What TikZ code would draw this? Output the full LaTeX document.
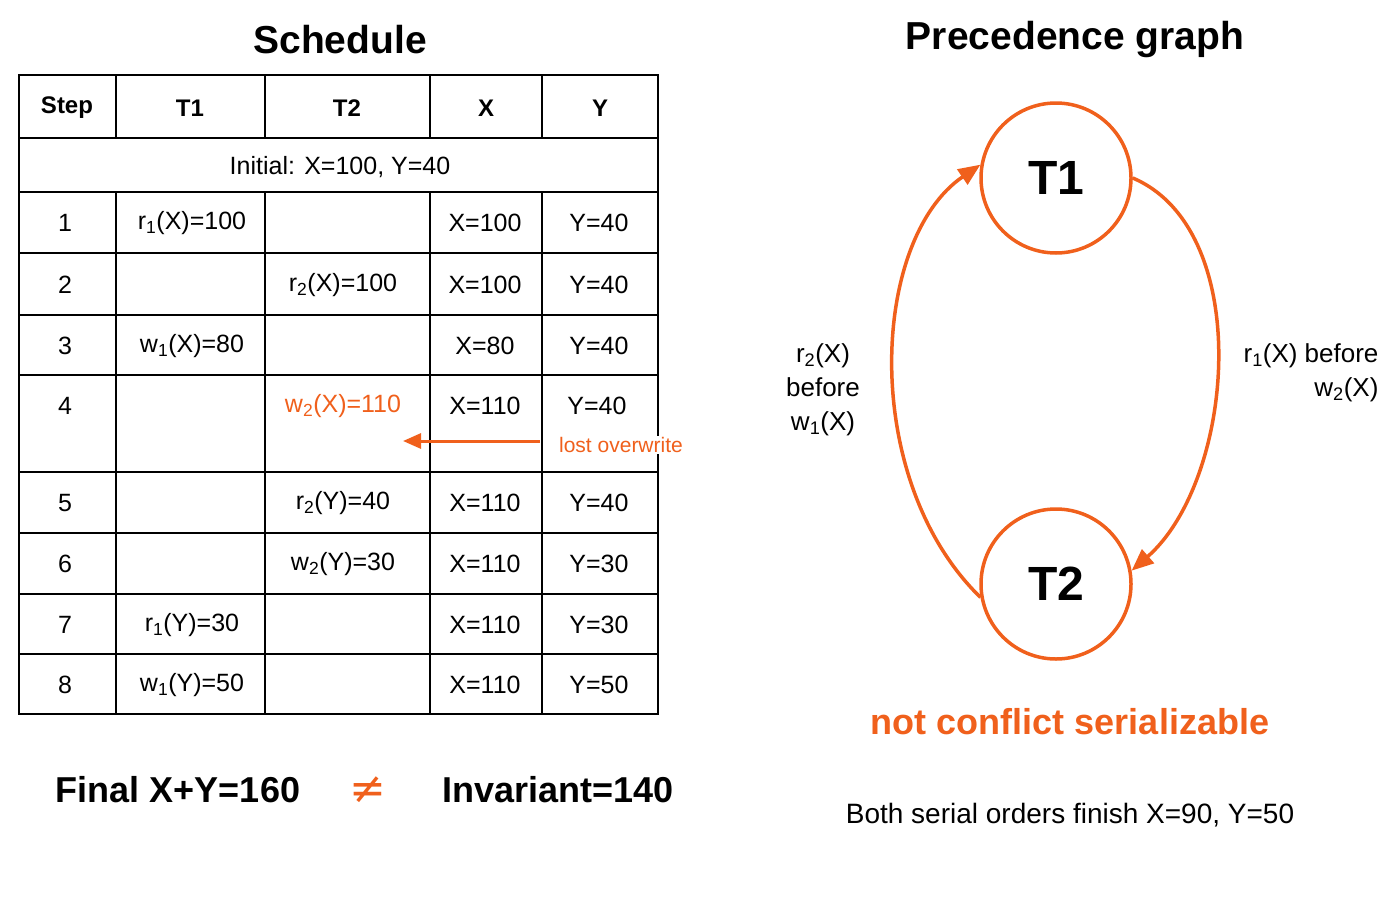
\documentclass[tikz,border=0pt]{standalone}
\usepackage{fontspec}
\setmainfont{Liberation Sans}
\newfontfamily\djvfont{DejaVu Sans}
\usetikzlibrary{arrows.meta}
\definecolor{org}{RGB}{240,96,28}
\newcommand{\sbs}[1]{\textsubscript{#1}}
\begin{document}
\begin{tikzpicture}[x=1pt,y=-1pt,
  cell/.style={font=\fontsize{25}{28}\selectfont},
  hd/.style={font=\bfseries\fontsize{24}{28}\selectfont},
  ttl/.style={font=\bfseries\fontsize{39}{44}\selectfont},
  tn/.style={circle,draw=org,line width=3.5pt,minimum size=150pt,inner sep=0pt,font=\bfseries\fontsize{48}{52}\selectfont},
  arr/.style={draw=org,line width=3.5pt,-{Triangle[length=22pt,width=18pt]}},
  lab/.style={font=\fontsize{26}{34}\selectfont,align=center}]
\useasboundingbox (0,0) rectangle (1400,900);
\node[ttl] (t1) at (340,40) {Schedule};
\node[ttl] (t2) at (1075,40) {Precedence graph};
% table
\draw[line width=2.2pt] (19,75) rectangle (658,714);
\foreach \y in {138,192,253,315,375,472,533,594,654} \draw[line width=2pt] (19,\y) -- (658,\y);
\foreach \x in {116,265,430,542} {\draw[line width=2pt] (\x,75) -- (\x,138); \draw[line width=2pt] (\x,192) -- (\x,714);}
\node[hd] (h1) at (67,108) {Step};
\node[hd] (h2) at (190,108) {T1};
\node[hd] (h3) at (347,108) {T2};
\node[hd] (h4) at (486,108) {X};
\node[hd] (h5) at (600,108) {Y};
\node[cell] (ini) at (340,167) {Initial: X=100, Y=40};
\foreach \n/\y/\a/\b/\c/\d in {1/223/r\sbs{1}(X)=100//X=100/Y=40, 2/285//r\sbs{2}(X)=100/X=100/Y=40, 3/346/w\sbs{1}(X)=80//X=80/Y=40, 5/503//r\sbs{2}(Y)=40/X=110/Y=40, 6/564//w\sbs{2}(Y)=30/X=110/Y=30, 7/625/r\sbs{1}(Y)=30//X=110/Y=30, 8/685/w\sbs{1}(Y)=50//X=110/Y=50}{
  \node[cell] (s\n) at (65,\y) {\n};
  \node[cell] (a\n) at (192,\y) {\a};
  \node[cell] (b\n) at (343,\y) {\b};
  \node[cell] (c\n) at (485,\y) {\c};
  \node[cell] (d\n) at (599,\y) {\d};}
\node[cell] (s4) at (65,406) {4};
\node[cell,text=org] (b4) at (343,406) {w\sbs{2}(X)=110};
\node[cell] (c4) at (485,406) {X=110};
\node[cell] (d4) at (597,406) {Y=40};
\coordinate (lo) at (540,441);
\coordinate (le) at (403,441);
\draw[draw=org,line width=3pt,-{Triangle[length=18pt,width=15pt]}] (lo) -- (le);
\node[font=\fontsize{21}{24}\selectfont,text=org,fill=white,inner sep=1pt] (lw) at (621,445) {lost overwrite};
% bottom
\node[font=\bfseries\fontsize{36}{40}\selectfont] (fin) at (178,790) {Final X+Y=160};
\node[font=\djvfont\fontsize{44}{48}\selectfont,text=org] (ne) at (368,790) {≠};
\node[font=\bfseries\fontsize{36}{40}\selectfont] (inv) at (558,790) {Invariant=140};
% graph
\node[tn] (T1) at (1056,178) {T1};
\node[tn] (T2) at (1056,584) {T2};
\draw[arr] (T2.190) .. controls (860,480) and (870,240) .. (T1.170);
\draw[arr] (T1.0) .. controls (1255,230) and (1235,480) .. (T2.10);
\node[lab] (ll) at (823,390) {r\sbs{2}(X)\\before\\w\sbs{1}(X)};
\node[lab,align=right,anchor=east] (rl) at (1382,373) {r\sbs{1}(X) before\\w\sbs{2}(X)};
\node[font=\bfseries\fontsize{36}{40}\selectfont,text=org] (ncs) at (1070,722) {not conflict serializable};
\node[font=\fontsize{28}{32}\selectfont] (both) at (1070,815) {Both serial orders finish X=90, Y=50};
\end{tikzpicture}
\end{document}
